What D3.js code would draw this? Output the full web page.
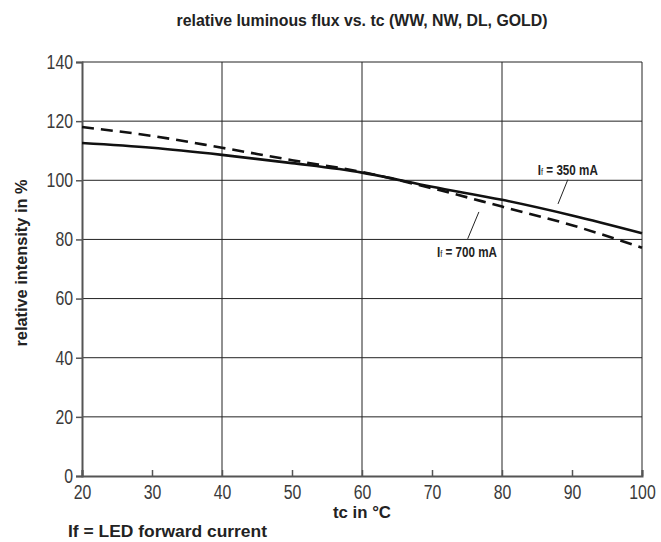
<!DOCTYPE html>
<html>
<head>
<meta charset="utf-8">
<script src="https://cdn.jsdelivr.net/npm/d3@7"></script>
<style>
  body { margin: 0; background: #fff; }
  svg { display: block; }
  text { font-family: "Liberation Sans", Arial, sans-serif; }
</style>
</head>
<body>
<div id="chart"></div>
<script>
const temps = [20, 30, 40, 50, 60, 70, 80, 90, 100];
const flux350 = [112.6, 111.0, 108.6, 105.8, 102.6, 97.8, 93.4, 88.1, 82.1];
const flux700 = [118.0, 115.0, 111.0, 106.8, 102.8, 97.3, 91.1, 84.8, 77.2];
const xTicks = [20, 30, 40, 50, 60, 70, 80, 90, 100];
const xGrid = [40, 60, 80, 100];
const yTicks = [0, 20, 40, 60, 80, 100, 120, 140];

const width = 661,
  height = 542,
  margin = { top: 62, right: 19, bottom: 66, left: 82 };

const svg = d3
  .select("#chart")
  .append("svg")
  .attr("width", width)
  .attr("height", height);

const x = d3.scaleLinear().domain([20, 100]).range([margin.left, width - margin.right]);
const y = d3.scaleLinear().domain([0, 140]).range([height - margin.bottom, margin.top]);

// squeeze text to look like a condensed face
const narrow = (sel, w) =>
  sel.attr("textLength", w).attr("lengthAdjust", "spacingAndGlyphs");

// grid
svg
  .selectAll("line.hgrid")
  .data(yTicks.filter((d) => d > 0))
  .enter()
  .append("line")
  .attr("x1", x(20))
  .attr("x2", x(100))
  .attr("y1", (d) => y(d))
  .attr("y2", (d) => y(d))
  .attr("stroke", "#222")
  .attr("stroke-width", 1);

svg
  .selectAll("line.vgrid")
  .data(xGrid)
  .enter()
  .append("line")
  .attr("x1", (d) => x(d))
  .attr("x2", (d) => x(d))
  .attr("y1", y(0))
  .attr("y2", y(140))
  .attr("stroke", "#222")
  .attr("stroke-width", 1);

// axes
const yAxis = svg
  .append("g")
  .attr("transform", `translate(${x(20)},0)`)
  .call(d3.axisLeft(y).tickValues(yTicks).tickSize(6).tickPadding(3));

const xAxis = svg
  .append("g")
  .attr("transform", `translate(0,${y(0)})`)
  .call(d3.axisBottom(x).tickValues(xTicks).tickSize(-6).tickPadding(9));

[yAxis, xAxis].forEach((g) => {
  g.select(".domain").attr("stroke", "#555").attr("stroke-width", 2);
  g.selectAll(".tick line").attr("stroke", "#555").attr("stroke-width", 1.5);
  g.selectAll(".tick text")
    .attr("fill", "#3a3a3a")
    .attr("font-size", "20px")
    .style("font-family", '"Liberation Sans", Arial, sans-serif')
    .each(function (d) {
      narrow(d3.select(this), String(d).length * 8.8);
    });
});
xAxis.selectAll(".tick text").attr("dy", "0.71em");

// curves
const line = d3
  .line()
  .x((d) => x(d[0]))
  .y((d) => y(d[1]))
  .curve(d3.curveMonotoneX);

svg
  .append("path")
  .datum(temps.map((t, i) => [t, flux350[i]]))
  .attr("d", line)
  .attr("fill", "none")
  .attr("stroke", "#111")
  .attr("stroke-width", 2.6);

svg
  .append("path")
  .datum(temps.map((t, i) => [t, flux700[i]]))
  .attr("d", line)
  .attr("fill", "none")
  .attr("stroke", "#111")
  .attr("stroke-width", 2.6)
  .attr("stroke-dasharray", "12,7");

// annotations
const notes = [
  { label: "350 mA", tx: 89.4, ty: 101.9, anchor: "middle", from: [89.4, 100.2], to: [88.0, 92.0] },
  { label: "700 mA", tx: 70.7, ty: 74.0, anchor: "start", from: [76.7, 89.3], to: [75.1, 80.2] },
];

notes.forEach((n) => {
  svg
    .append("line")
    .attr("x1", x(n.from[0]))
    .attr("y1", y(n.from[1]))
    .attr("x2", x(n.to[0]))
    .attr("y2", y(n.to[1]))
    .attr("stroke", "#222")
    .attr("stroke-width", 1);

  const t = svg
    .append("text")
    .attr("x", x(n.tx))
    .attr("y", y(n.ty))
    .attr("text-anchor", n.anchor)
    .attr("font-size", "14px")
    .attr("font-weight", "bold")
    .attr("fill", "#222");
  t.append("tspan").text("I");
  t.append("tspan").attr("font-size", "9px").attr("font-weight", "normal").text("f");
  t.append("tspan").text(" = " + n.label);
  narrow(t, 60);
});

// titles
narrow(
  svg
    .append("text")
    .attr("x", (x(20) + x(100)) / 2)
    .attr("y", 26)
    .attr("text-anchor", "middle")
    .attr("font-size", "16px")
    .attr("font-weight", "bold")
    .attr("fill", "#222")
    .text("relative luminous flux vs. tc (WW, NW, DL, GOLD)"),
  371
);

narrow(
  svg
    .append("text")
    .attr("transform", `translate(27,${(y(0) + y(140)) / 2 - 6}) rotate(-90)`)
    .attr("text-anchor", "middle")
    .attr("font-size", "16px")
    .attr("font-weight", "bold")
    .attr("fill", "#222")
    .text("relative intensity in %"),
  167
);

narrow(
  svg
    .append("text")
    .attr("x", (x(20) + x(100)) / 2)
    .attr("y", 518)
    .attr("text-anchor", "middle")
    .attr("font-size", "16px")
    .attr("font-weight", "bold")
    .attr("fill", "#222")
    .text("tc in °C"),
  58
);

narrow(
  svg
    .append("text")
    .attr("x", 68)
    .attr("y", 537)
    .attr("font-size", "16px")
    .attr("font-weight", "bold")
    .attr("fill", "#222")
    .text("If = LED forward current"),
  199
);
</script>
</body>
</html>
